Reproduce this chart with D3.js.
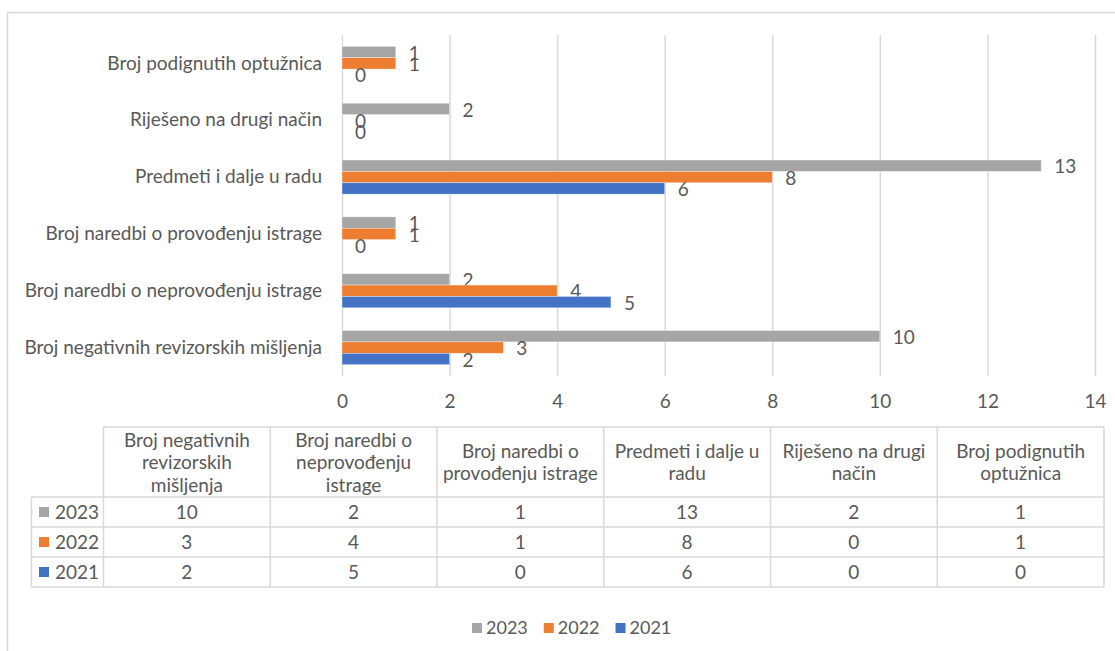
<!DOCTYPE html>
<html>
<head>
<meta charset="utf-8">
<script src="https://cdn.jsdelivr.net/npm/d3@7"></script>
<style>
  body { margin: 0; background: #fff; }
  svg { display: block; }
  text { font-family: Lato, "Open Sans", sans-serif; fill: #595959; font-size: 19px; }
</style>
</head>
<body>
<svg id="chart" width="1115" height="651"></svg>
<script>
// Categories, listed bottom-to-top on the bar chart and left-to-right in the table
const categories = [
  "Broj negativnih revizorskih mišljenja",
  "Broj naredbi o neprovođenju istrage",
  "Broj naredbi o provođenju istrage",
  "Predmeti i dalje u radu",
  "Riješeno na drugi način",
  "Broj podignutih optužnica"
];
// Wrapped header text for the data table
const headerLines = [
  ["Broj negativnih", "revizorskih", "mišljenja"],
  ["Broj naredbi o", "neprovođenju", "istrage"],
  ["Broj naredbi o", "provođenju istrage"],
  ["Predmeti i dalje u", "radu"],
  ["Riješeno na drugi", "način"],
  ["Broj podignutih", "optužnica"]
];
const years = ["2023", "2022", "2021"];
const values2023 = [10, 2, 1, 13, 2, 1];
const values2022 = [3, 4, 1, 8, 0, 1];
const values2021 = [2, 5, 0, 6, 0, 0];
const seriesColors = ["#A5A5A5", "#ED7D31", "#4472C4"];
const xTicks = [0, 2, 4, 6, 8, 10, 12, 14];

const series = [values2023, values2022, values2021].map((vals, i) => ({
  year: years[i], color: seriesColors[i], values: vals
}));

const svg = d3.select("#chart");
const gridColor = "#D9D9D9";
const textColor = "#595959";

// Outer chart frame (top and left edges visible)
svg.append("line").attr("x1", 7.5).attr("x2", 1115).attr("y1", 12.5).attr("y2", 12.5)
  .attr("stroke", gridColor).attr("stroke-width", 1.5);
svg.append("line").attr("x1", 7.5).attr("x2", 7.5).attr("y1", 12.5).attr("y2", 651)
  .attr("stroke", gridColor).attr("stroke-width", 1.5);

// Scales
const x = d3.scaleLinear().domain([0, 14]).range([342, 1095]);
const y = d3.scaleBand().domain(categories).range([376, 35]).paddingInner(0.4).paddingOuter(0.2);
const ySub = d3.scaleBand().domain(years).range([0, y.bandwidth()]);

// Vertical gridlines + x tick labels via axis
const xAxis = d3.axisBottom(x).tickValues(xTicks).tickSize(-(376 - 35)).tickPadding(19);
const gx = svg.append("g").attr("transform", "translate(0,376)").call(xAxis);
gx.select(".domain").remove();
gx.selectAll(".tick line").attr("stroke", gridColor).attr("stroke-width", 1.5);
gx.selectAll(".tick text").attr("fill", textColor);
gx.attr("font-size", null).attr("font-family", null);

// Category labels
const yAxis = d3.axisLeft(y).tickSize(0).tickPadding(20);
const gy = svg.append("g").attr("transform", "translate(342,0)").call(yAxis);
gy.select(".domain").remove();
gy.selectAll(".tick text").attr("fill", textColor);
gy.attr("font-size", null).attr("font-family", null);

// Bars
const groups = svg.append("g").selectAll("g")
  .data(series).join("g").attr("fill", d => d.color);

groups.selectAll("rect")
  .data(s => s.values.map((v, i) => ({ v, cat: categories[i], year: s.year })))
  .join("rect")
  .attr("x", x(0))
  .attr("y", d => y(d.cat) + ySub(d.year))
  .attr("width", d => x(d.v) - x(0))
  .attr("height", ySub.bandwidth())
  .attr("stroke", "#fff").attr("stroke-width", 0.6).attr("stroke-opacity", 0.6);

// Value labels
groups.selectAll("text")
  .data(s => s.values.map((v, i) => ({ v, cat: categories[i], year: s.year })))
  .join("text")
  .attr("x", d => x(d.v) + 13)
  .attr("y", d => y(d.cat) + ySub(d.year) + ySub.bandwidth() / 2 + 1)
  .attr("dy", "0.35em")
  .attr("fill", textColor)
  .text(d => d.v);

// Data table
const colX = d3.scaleBand().domain(categories).range([103.5, 1104]);
const tableTop = 427, headerH = 70, rowH = 30, keyLeft = 31.5;
const tbl = svg.append("g");
const tblLine = (x1, y1, x2, y2) => tbl.append("line")
  .attr("x1", x1).attr("y1", y1).attr("x2", x2).attr("y2", y2)
  .attr("stroke", gridColor).attr("stroke-width", 1.5);

const tableBottom = tableTop + headerH + rowH * years.length;
// horizontal rules
tblLine(colX.range()[0], tableTop, colX.range()[1], tableTop);
years.forEach((yr, i) => tblLine(keyLeft, tableTop + headerH + i * rowH, colX.range()[1], tableTop + headerH + i * rowH));
tblLine(keyLeft, tableBottom, colX.range()[1], tableBottom);
// vertical rules
tblLine(keyLeft, tableTop + headerH, keyLeft, tableBottom);
categories.forEach(c => tblLine(colX(c), tableTop, colX(c), tableBottom));
tblLine(colX.range()[1], tableTop, colX.range()[1], tableBottom);

// header text
categories.forEach((c, i) => {
  const lines = headerLines[i];
  const lh = 22.5;
  const cy = tableTop + headerH / 2 + 0.5;
  const t = tbl.append("text").attr("text-anchor", "middle");
  lines.forEach((ln, j) => {
    t.append("tspan")
      .attr("x", colX(c) + colX.bandwidth() / 2)
      .attr("y", cy + (j - (lines.length - 1) / 2) * lh)
      .attr("dy", "0.35em")
      .text(ln);
  });
});

// rows
series.forEach((s, i) => {
  const rowMid = tableTop + headerH + i * rowH + rowH / 2;
  tbl.append("rect").attr("x", 39).attr("y", rowMid - 5).attr("width", 10).attr("height", 10)
    .attr("fill", s.color);
  tbl.append("text").attr("x", 55).attr("y", rowMid).attr("dy", "0.35em").text(s.year);
  s.values.forEach((v, j) => {
    tbl.append("text")
      .attr("x", colX(categories[j]) + colX.bandwidth() / 2)
      .attr("y", rowMid).attr("dy", "0.35em")
      .attr("text-anchor", "middle")
      .text(v);
  });
});

// Legend
const legend = svg.append("g").attr("transform", "translate(472,628)");
let lx = 0;
series.forEach(s => {
  const item = legend.append("g").attr("transform", `translate(${lx},0)`);
  item.append("rect").attr("x", 0).attr("y", -5).attr("width", 10).attr("height", 10).attr("fill", s.color);
  const t = item.append("text").attr("x", 14).attr("dy", "0.35em").style("font-size", "18px").text(s.year);
  lx += 14 + t.node().getComputedTextLength() + 16;
});
</script>
</body>
</html>
